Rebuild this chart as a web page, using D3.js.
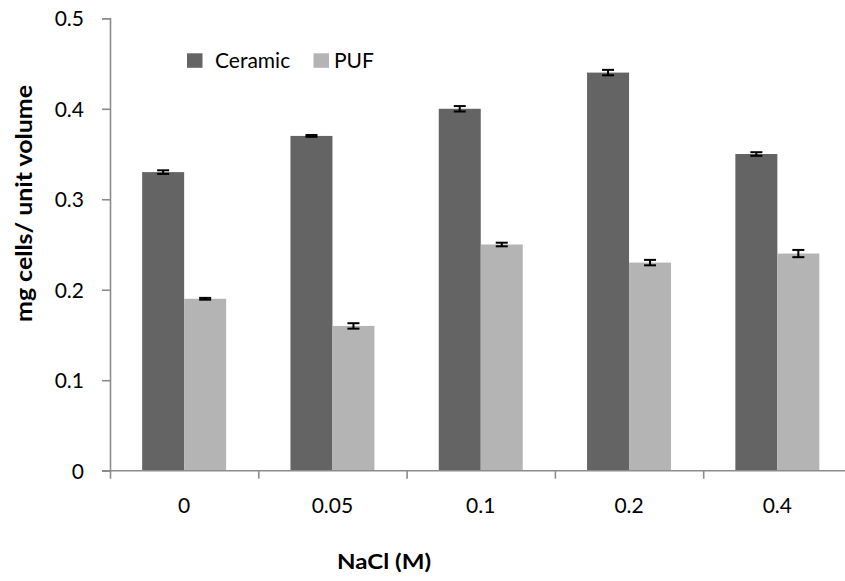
<!DOCTYPE html>
<html>
<head>
<meta charset="utf-8">
<script src="https://cdn.jsdelivr.net/npm/d3@7"></script>
<style>
  html, body { margin: 0; padding: 0; background: #ffffff; }
  svg { display: block; }
  text { font-family: Lato, "Open Sans", sans-serif; fill: #000; }
</style>
</head>
<body>
<svg id="chart" width="845" height="581"></svg>
<script>
// NaCl concentrations (M)
const categories = ["0", "0.05", "0.1", "0.2", "0.4"];
const seriesNames = ["Ceramic", "PUF"];
// mg cells per unit volume
const ceramicValues = [0.33, 0.37, 0.40, 0.44, 0.35];
const pufValues = [0.19, 0.16, 0.25, 0.23, 0.24];
// standard errors
const ceramicErrors = [0.002, 0.001, 0.003, 0.003, 0.002];
const pufErrors = [0.001, 0.003, 0.002, 0.003, 0.004];
const yTicks = [0, 0.1, 0.2, 0.3, 0.4, 0.5];

const colors = { Ceramic: "#646464", PUF: "#b4b4b4" };
const axisColor = "#8c8c8c";

const rows = categories.map((c, i) => ({
  cat: c,
  bars: [
    { s: "Ceramic", v: ceramicValues[i], e: ceramicErrors[i] },
    { s: "PUF", v: pufValues[i], e: pufErrors[i] }
  ]
}));

const svg = d3.select("#chart");
const plotLeft = 110, plotBottom = 470.7, plotTop = 18.3;
const band = 148.3;
const plotRight = plotLeft + band * categories.length;

const x0 = d3.scaleBand().domain(categories).range([plotLeft, plotRight]).padding(0);
const x1 = d3.scaleBand().domain(seriesNames).range([0, x0.bandwidth()])
  .paddingInner(0).paddingOuter(0.766);
const y = d3.scaleLinear().domain([0, 0.5]).range([plotBottom, plotTop]);

// bars
const groups = svg.append("g").selectAll("g").data(rows).join("g")
  .attr("transform", d => `translate(${x0(d.cat)},0)`);

groups.selectAll("rect").data(d => d.bars).join("rect")
  .attr("x", d => x1(d.s))
  .attr("y", d => y(d.v))
  .attr("width", x1.bandwidth())
  .attr("height", d => y(0) - y(d.v))
  .attr("fill", d => colors[d.s]);

// error bars
const capHalf = 6;
const eb = groups.selectAll("g.err").data(d => d.bars).join("g").attr("class", "err")
  .attr("stroke", "#000").attr("stroke-width", 2);
eb.append("line")
  .attr("x1", d => x1(d.s) + x1.bandwidth() / 2)
  .attr("x2", d => x1(d.s) + x1.bandwidth() / 2)
  .attr("y1", d => y(d.v + d.e))
  .attr("y2", d => y(d.v - d.e));
eb.append("line")
  .attr("x1", d => x1(d.s) + x1.bandwidth() / 2 - capHalf)
  .attr("x2", d => x1(d.s) + x1.bandwidth() / 2 + capHalf)
  .attr("y1", d => y(d.v + d.e))
  .attr("y2", d => y(d.v + d.e));
eb.append("line")
  .attr("x1", d => x1(d.s) + x1.bandwidth() / 2 - capHalf)
  .attr("x2", d => x1(d.s) + x1.bandwidth() / 2 + capHalf)
  .attr("y1", d => y(d.v - d.e))
  .attr("y2", d => y(d.v - d.e));

// y axis
const yAxis = svg.append("g")
  .attr("transform", `translate(${plotLeft},0)`)
  .call(d3.axisLeft(y).tickValues(yTicks).tickSize(8).tickPadding(18)
    .tickFormat(d => d === 0 ? "0" : d3.format(".1f")(d)));
yAxis.select(".domain").attr("stroke", axisColor).attr("stroke-width", 1.6);
yAxis.selectAll(".tick line").attr("stroke", axisColor).attr("stroke-width", 1.6);
yAxis.selectAll(".tick text")
  .attr("font-size", 21).attr("font-family", "Lato, sans-serif").attr("fill", "#000")
  .attr("dy", "0.36em");

// x axis: ticks sit on category boundaries
const xb = d3.scaleLinear().domain([0, categories.length]).range([plotLeft, plotRight]);
const xAxis = svg.append("g")
  .attr("transform", `translate(0,${plotBottom})`)
  .call(d3.axisBottom(xb).ticks(categories.length).tickSize(8).tickFormat(""));
xAxis.select(".domain").attr("stroke", axisColor).attr("stroke-width", 1.6)
  .attr("d", `M${plotLeft - 8},0H${plotRight}`);
xAxis.selectAll(".tick line").attr("stroke", axisColor).attr("stroke-width", 1.6);

// category labels
svg.append("g").selectAll("text").data(categories).join("text")
  .attr("x", d => x0(d) + x0.bandwidth() / 2)
  .attr("y", 513)
  .attr("text-anchor", "middle")
  .attr("font-size", 21)
  .text(d => d);

// axis titles
svg.append("text")
  .attr("x", 384).attr("y", 569)
  .attr("text-anchor", "middle")
  .attr("font-size", 21).attr("font-weight", "bold")
  .attr("textLength", 94).attr("lengthAdjust", "spacingAndGlyphs")
  .text("NaCl (M)");

svg.append("text")
  .attr("transform", "translate(31.5,203.5) rotate(-90)")
  .attr("text-anchor", "middle")
  .attr("font-size", 22).attr("font-weight", "bold")
  .attr("textLength", 237).attr("lengthAdjust", "spacingAndGlyphs")
  .text("mg cells/ unit volume");

// legend
const legendItems = [
  { s: "Ceramic", sx: 187, tx: 215 },
  { s: "PUF", sx: 313.5, tx: 334 }
];
const lg = svg.append("g");
lg.selectAll("rect").data(legendItems).join("rect")
  .attr("x", d => d.sx).attr("y", 53.3).attr("width", 15.5).attr("height", 14.5)
  .attr("fill", d => colors[d.s]);
lg.selectAll("text").data(legendItems).join("text")
  .attr("x", d => d.tx).attr("y", 67.7)
  .attr("font-size", 21)
  .text(d => d.s);
</script>
</body>
</html>
